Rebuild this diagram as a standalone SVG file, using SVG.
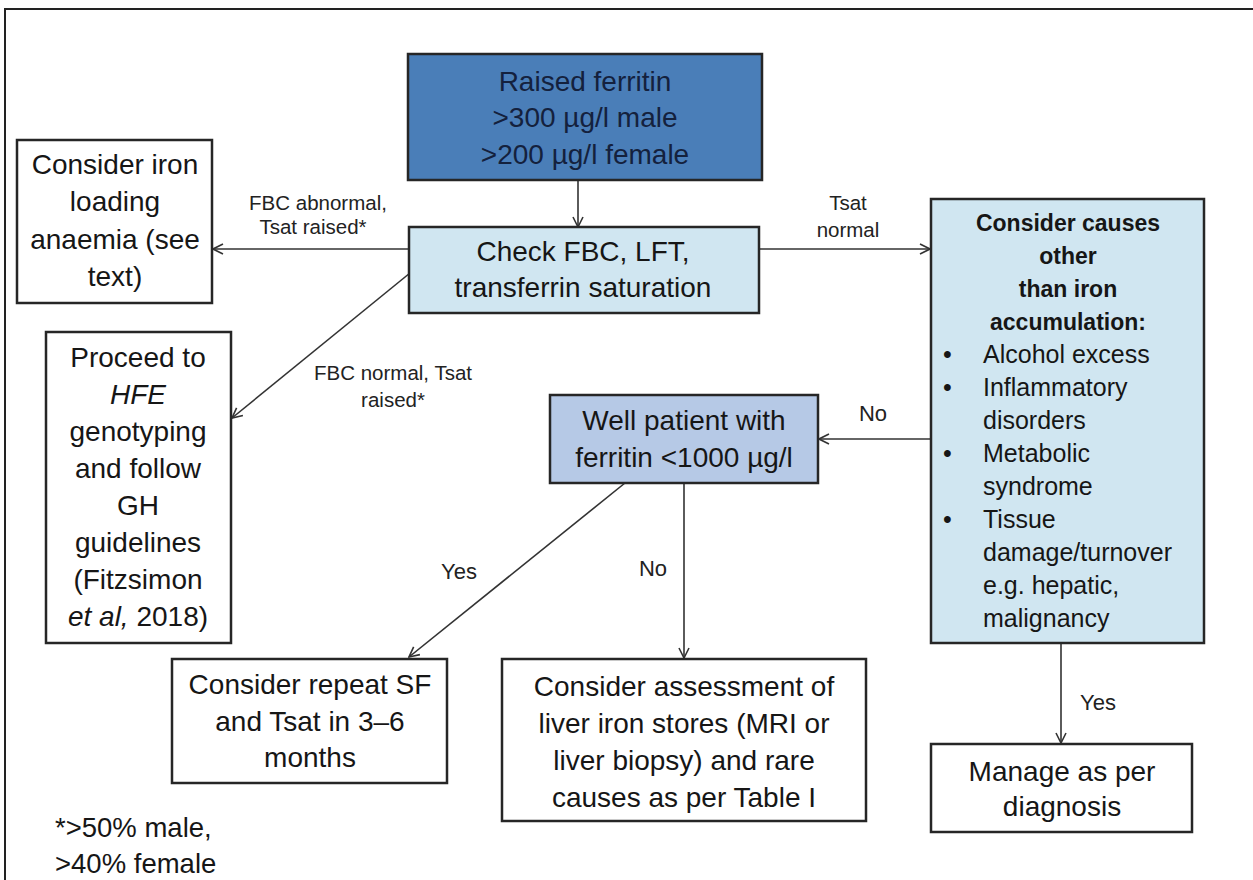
<svg xmlns="http://www.w3.org/2000/svg" width="1253" height="880" viewBox="0 0 1253 880">
<style>
text{font-family:"Liberation Sans",Arial,sans-serif;fill:#161616}
.b{font-size:28px;text-anchor:middle}
.r{font-size:25px}
.rb{font-size:23px;font-weight:bold;text-anchor:middle}
.lb{font-size:20.5px;text-anchor:middle;fill:#222}
.yn{font-size:22px;text-anchor:middle;fill:#222}
.box{stroke:#262626;stroke-width:2.5}
.dk{fill:#14213d}
.con line{stroke:#333;stroke-width:1.6;marker-end:url(#ah)}
</style>
<defs>
<marker id="ah" viewBox="0 0 12 12" refX="11" refY="6" markerWidth="12" markerHeight="12" markerUnits="userSpaceOnUse" orient="auto">
<path d="M1,1 L11,6 L1,11" fill="none" stroke="#333" stroke-width="1.6"/>
</marker>
</defs>
<rect width="1253" height="880" fill="#fff"/>
<path d="M5,880 V9 H1253" fill="none" stroke="#222" stroke-width="2"/>

<g class="con">
<line x1="578" y1="180" x2="578" y2="227"/>
<line x1="408" y1="249" x2="213" y2="249"/>
<line x1="410" y1="273" x2="232" y2="418"/>
<line x1="759" y1="249" x2="930" y2="249"/>
<line x1="931" y1="439" x2="819" y2="439"/>
<line x1="625" y1="483" x2="409" y2="657"/>
<line x1="684" y1="483" x2="684" y2="658"/>
<line x1="1061" y1="643" x2="1061" y2="743"/>
</g>

<g id="labels">
<text class="lb" x="318" y="210">FBC abnormal,</text>
<text class="lb" x="313" y="234">Tsat raised*</text>
<text class="lb" x="393" y="380">FBC normal, Tsat</text>
<text class="lb" x="393" y="407">raised*</text>
<text class="lb" x="848" y="210">Tsat</text>
<text class="lb" x="848" y="237">normal</text>
<text class="yn" x="873" y="421">No</text>
<text class="yn" x="459" y="579">Yes</text>
<text class="yn" x="653" y="576">No</text>
<text class="yn" x="1098" y="710">Yes</text>
</g>

<g id="n-raised">
<rect class="box" x="408" y="54" width="354" height="126" fill="#4a7eb8"/>
<text class="b dk" x="585" y="91">Raised ferritin</text>
<text class="b dk" x="585" y="127">&gt;300 µg/l male</text>
<text class="b dk" x="585" y="164">&gt;200 µg/l female</text>
</g>

<g id="n-check">
<rect class="box" x="409" y="227" width="350" height="86" fill="#d0e6f1"/>
<text class="b" x="583" y="261">Check FBC, LFT,</text>
<text class="b" x="583" y="297">transferrin saturation</text>
</g>

<g id="n-iron">
<rect class="box" x="17" y="140" width="195" height="163" fill="#fff"/>
<text class="b" x="115" y="174">Consider iron</text>
<text class="b" x="115" y="211">loading</text>
<text class="b" x="115" y="249">anaemia (see</text>
<text class="b" x="115" y="286">text)</text>
</g>

<g id="n-hfe">
<rect class="box" x="46" y="332" width="185" height="311" fill="#fff"/>
<text class="b" x="138" y="367">Proceed to</text>
<text class="b" x="138" y="404" font-style="italic">HFE</text>
<text class="b" x="138" y="441">genotyping</text>
<text class="b" x="138" y="478">and follow</text>
<text class="b" x="138" y="515">GH</text>
<text class="b" x="138" y="552">guidelines</text>
<text class="b" x="138" y="589">(Fitzsimon</text>
<text class="b" x="138" y="626"><tspan font-style="italic">et al,</tspan> 2018)</text>
</g>

<g id="n-other">
<rect class="box" x="931" y="199" width="273" height="444" fill="#d0e6f1"/>
<text class="rb" x="1068" y="231">Consider causes</text>
<text class="rb" x="1068" y="264">other</text>
<text class="rb" x="1068" y="297">than iron</text>
<text class="rb" x="1068" y="330">accumulation:</text>
<g class="r">
<text x="943" y="363">•</text>
<text x="983" y="363">Alcohol excess</text>
<text x="943" y="396">•</text>
<text x="983" y="396">Inflammatory</text>
<text x="983" y="429">disorders</text>
<text x="943" y="462">•</text>
<text x="983" y="462">Metabolic</text>
<text x="983" y="495">syndrome</text>
<text x="943" y="528">•</text>
<text x="983" y="528">Tissue</text>
<text x="983" y="561">damage/turnover</text>
<text x="983" y="594">e.g. hepatic,</text>
<text x="983" y="627">malignancy</text>
</g>
</g>

<g id="n-well">
<rect class="box" x="550" y="395" width="268" height="88" fill="#b6c9e6"/>
<text class="b" x="684" y="430">Well patient with</text>
<text class="b" x="684" y="467">ferritin &lt;1000 µg/l</text>
</g>

<g id="n-repeat">
<rect class="box" x="172" y="659" width="275" height="124" fill="#fff"/>
<text class="b" x="310" y="694">Consider repeat SF</text>
<text class="b" x="310" y="731">and Tsat in 3–6</text>
<text class="b" x="310" y="767">months</text>
</g>

<g id="n-liver">
<rect class="box" x="502" y="659" width="364" height="162" fill="#fff"/>
<text class="b" x="684" y="696">Consider assessment of</text>
<text class="b" x="684" y="733">liver iron stores (MRI or</text>
<text class="b" x="684" y="770">liver biopsy) and rare</text>
<text class="b" x="684" y="807">causes as per Table I</text>
</g>

<g id="n-manage">
<rect class="box" x="931" y="744" width="261" height="88" fill="#fff"/>
<text class="b" x="1062" y="781">Manage as per</text>
<text class="b" x="1062" y="816">diagnosis</text>
</g>

<g id="footnote">
<text x="55" y="837" font-size="27.5">*&gt;50% male,</text>
<text x="55" y="873" font-size="27.5">&gt;40% female</text>
</g>
</svg>
